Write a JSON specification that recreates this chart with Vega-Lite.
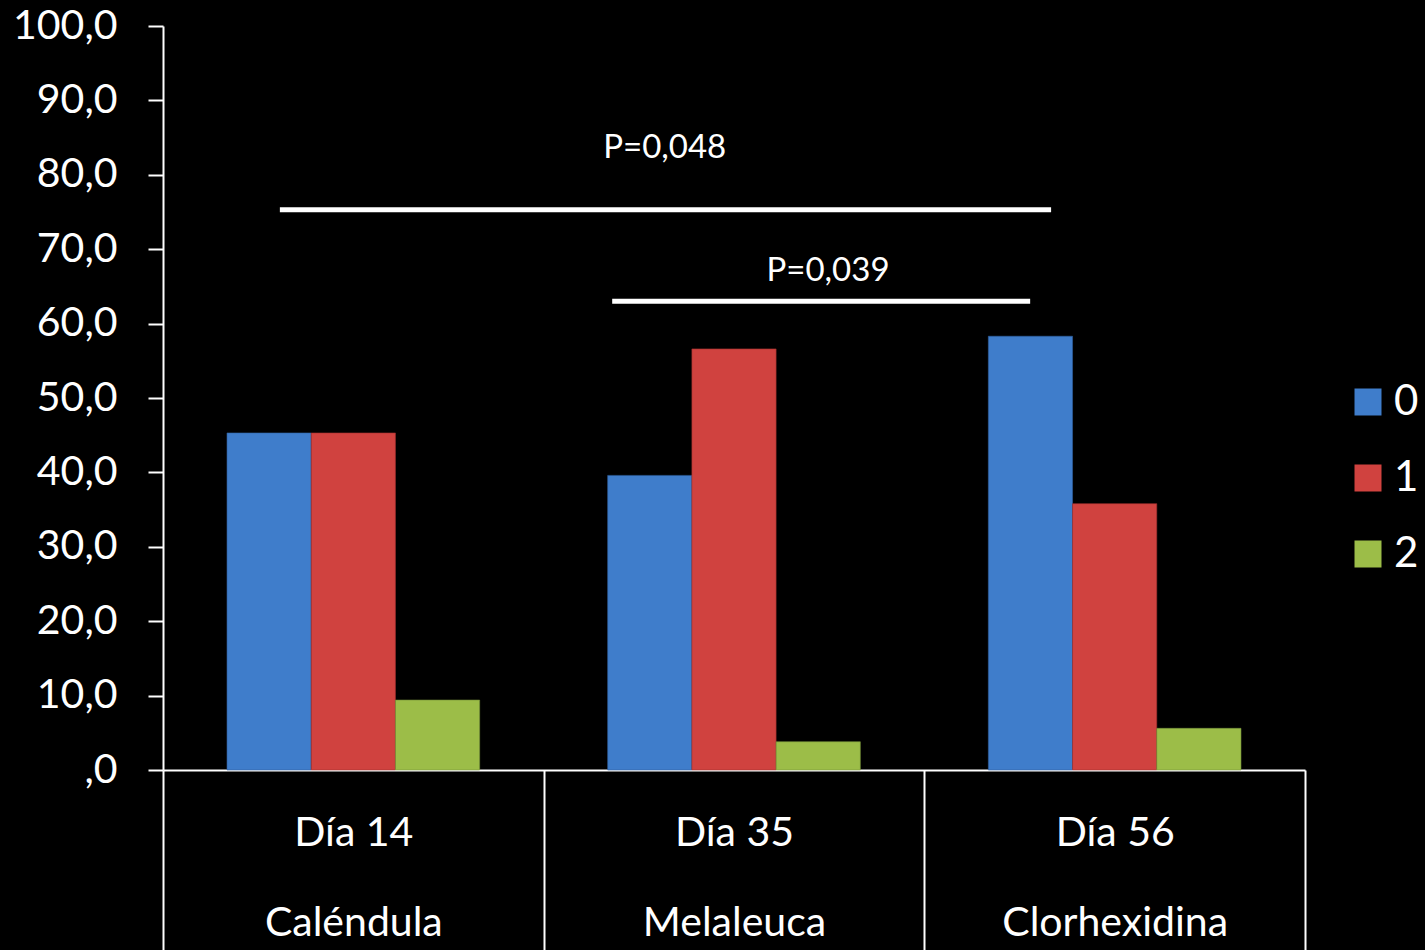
{
  "$schema": "https://vega.github.io/schema/vega-lite/v6.json",
  "width": 1142,
  "height": 744,
  "autosize": {"type": "none"},
  "padding": {"left": 163, "top": 26, "right": 200, "bottom": 180},
  "background": "#000000",
  "config": {
    "view": {"stroke": null},
    "font": "Lato"
  },
  "datasets": {
    "barras": [
      {"categoria": "Día 14|Caléndula", "nivel": "0", "porcentaje": 45.3},
      {"categoria": "Día 14|Caléndula", "nivel": "1", "porcentaje": 45.3},
      {"categoria": "Día 14|Caléndula", "nivel": "2", "porcentaje": 9.4},
      {"categoria": "Día 35|Melaleuca", "nivel": "0", "porcentaje": 39.6},
      {"categoria": "Día 35|Melaleuca", "nivel": "1", "porcentaje": 56.6},
      {"categoria": "Día 35|Melaleuca", "nivel": "2", "porcentaje": 3.8},
      {"categoria": "Día 56|Clorhexidina", "nivel": "0", "porcentaje": 58.3},
      {"categoria": "Día 56|Clorhexidina", "nivel": "1", "porcentaje": 35.8},
      {"categoria": "Día 56|Clorhexidina", "nivel": "2", "porcentaje": 5.6}
    ],
    "significancia": [
      {"desde": 0.307, "hasta": 2.333, "altura": 75.3, "centro": 1.318, "alturaTexto": 82.2, "etiqueta": "P=0,048"},
      {"desde": 1.18, "hasta": 2.278, "altura": 63.0, "centro": 1.747, "alturaTexto": 65.7, "etiqueta": "P=0,039"}
    ]
  },
  "layer": [
    {
      "data": {"name": "barras"},
      "mark": {"type": "bar", "strokeWidth": 1, "strokeOpacity": 0.6},
      "encoding": {
        "x": {
          "field": "categoria",
          "type": "nominal",
          "sort": null,
          "scale": {"paddingInner": 0, "paddingOuter": 0},
          "axis": {
            "title": null,
            "labelAngle": 0,
            "labelExpr": "split(datum.label, '|')",
            "labelColor": "#ffffff",
            "labelFontSize": 41,
            "labelLineHeight": 90,
            "labelBaseline": "top",
            "labelPadding": -137,
            "labelLimit": 500,
            "tickBand": "extent",
            "tickSize": 180,
            "tickWidth": 2,
            "tickColor": "#ffffff",
            "domainColor": "#ffffff",
            "domainWidth": 2,
            "grid": false
          }
        },
        "xOffset": {
          "field": "nivel",
          "type": "nominal",
          "scale": {"paddingInner": 0, "paddingOuter": 0.76}
        },
        "y": {
          "field": "porcentaje",
          "type": "quantitative",
          "scale": {"domain": [0, 100]},
          "axis": {
            "title": null,
            "values": [0, 10, 20, 30, 40, 50, 60, 70, 80, 90, 100],
            "labelExpr": "datum.value == 0 ? ',0' : replace(format(datum.value, '.1f'), '.', ',')",
            "labelColor": "#ffffff",
            "labelFontSize": 41,
            "labelPadding": 31,
            "tickSize": 15,
            "tickWidth": 2,
            "tickColor": "#ffffff",
            "domainColor": "#ffffff",
            "domainWidth": 2,
            "grid": false
          }
        },
        "color": {
          "field": "nivel",
          "type": "nominal",
          "scale": {"domain": ["0", "1", "2"], "range": ["#3f7dcb", "#d0423f", "#9cbd48"]},
          "legend": {
            "title": null,
            "orient": "none",
            "legendX": 1184,
            "legendY": 355,
            "symbolType": "square",
            "symbolSize": 729,
            "symbolStrokeWidth": 0,
            "labelColor": "#ffffff",
            "labelFontSize": 42,
            "labelOffset": 5,
            "labelLimit": 100,
            "rowPadding": 34
          }
        },
        "stroke": {
          "field": "nivel",
          "type": "nominal",
          "scale": {"domain": ["0", "1", "2"], "range": ["#2f5f9e", "#9e2f2d", "#76923a"]},
          "legend": null
        }
      }
    },
    {
      "data": {"name": "significancia"},
      "mark": {"type": "rule", "color": "#ffffff", "strokeWidth": 5},
      "encoding": {
        "x": {"field": "desde", "type": "quantitative", "scale": {"domain": [0, 3]}, "axis": null},
        "x2": {"field": "hasta"},
        "y": {"field": "altura", "type": "quantitative"}
      }
    },
    {
      "data": {"name": "significancia"},
      "mark": {"type": "text", "color": "#ffffff", "fontSize": 33, "baseline": "alphabetic", "align": "center"},
      "encoding": {
        "x": {"field": "centro", "type": "quantitative", "scale": {"domain": [0, 3]}, "axis": null},
        "y": {"field": "alturaTexto", "type": "quantitative"},
        "text": {"field": "etiqueta"}
      }
    }
  ],
  "resolve": {"scale": {"x": "independent"}}
}
